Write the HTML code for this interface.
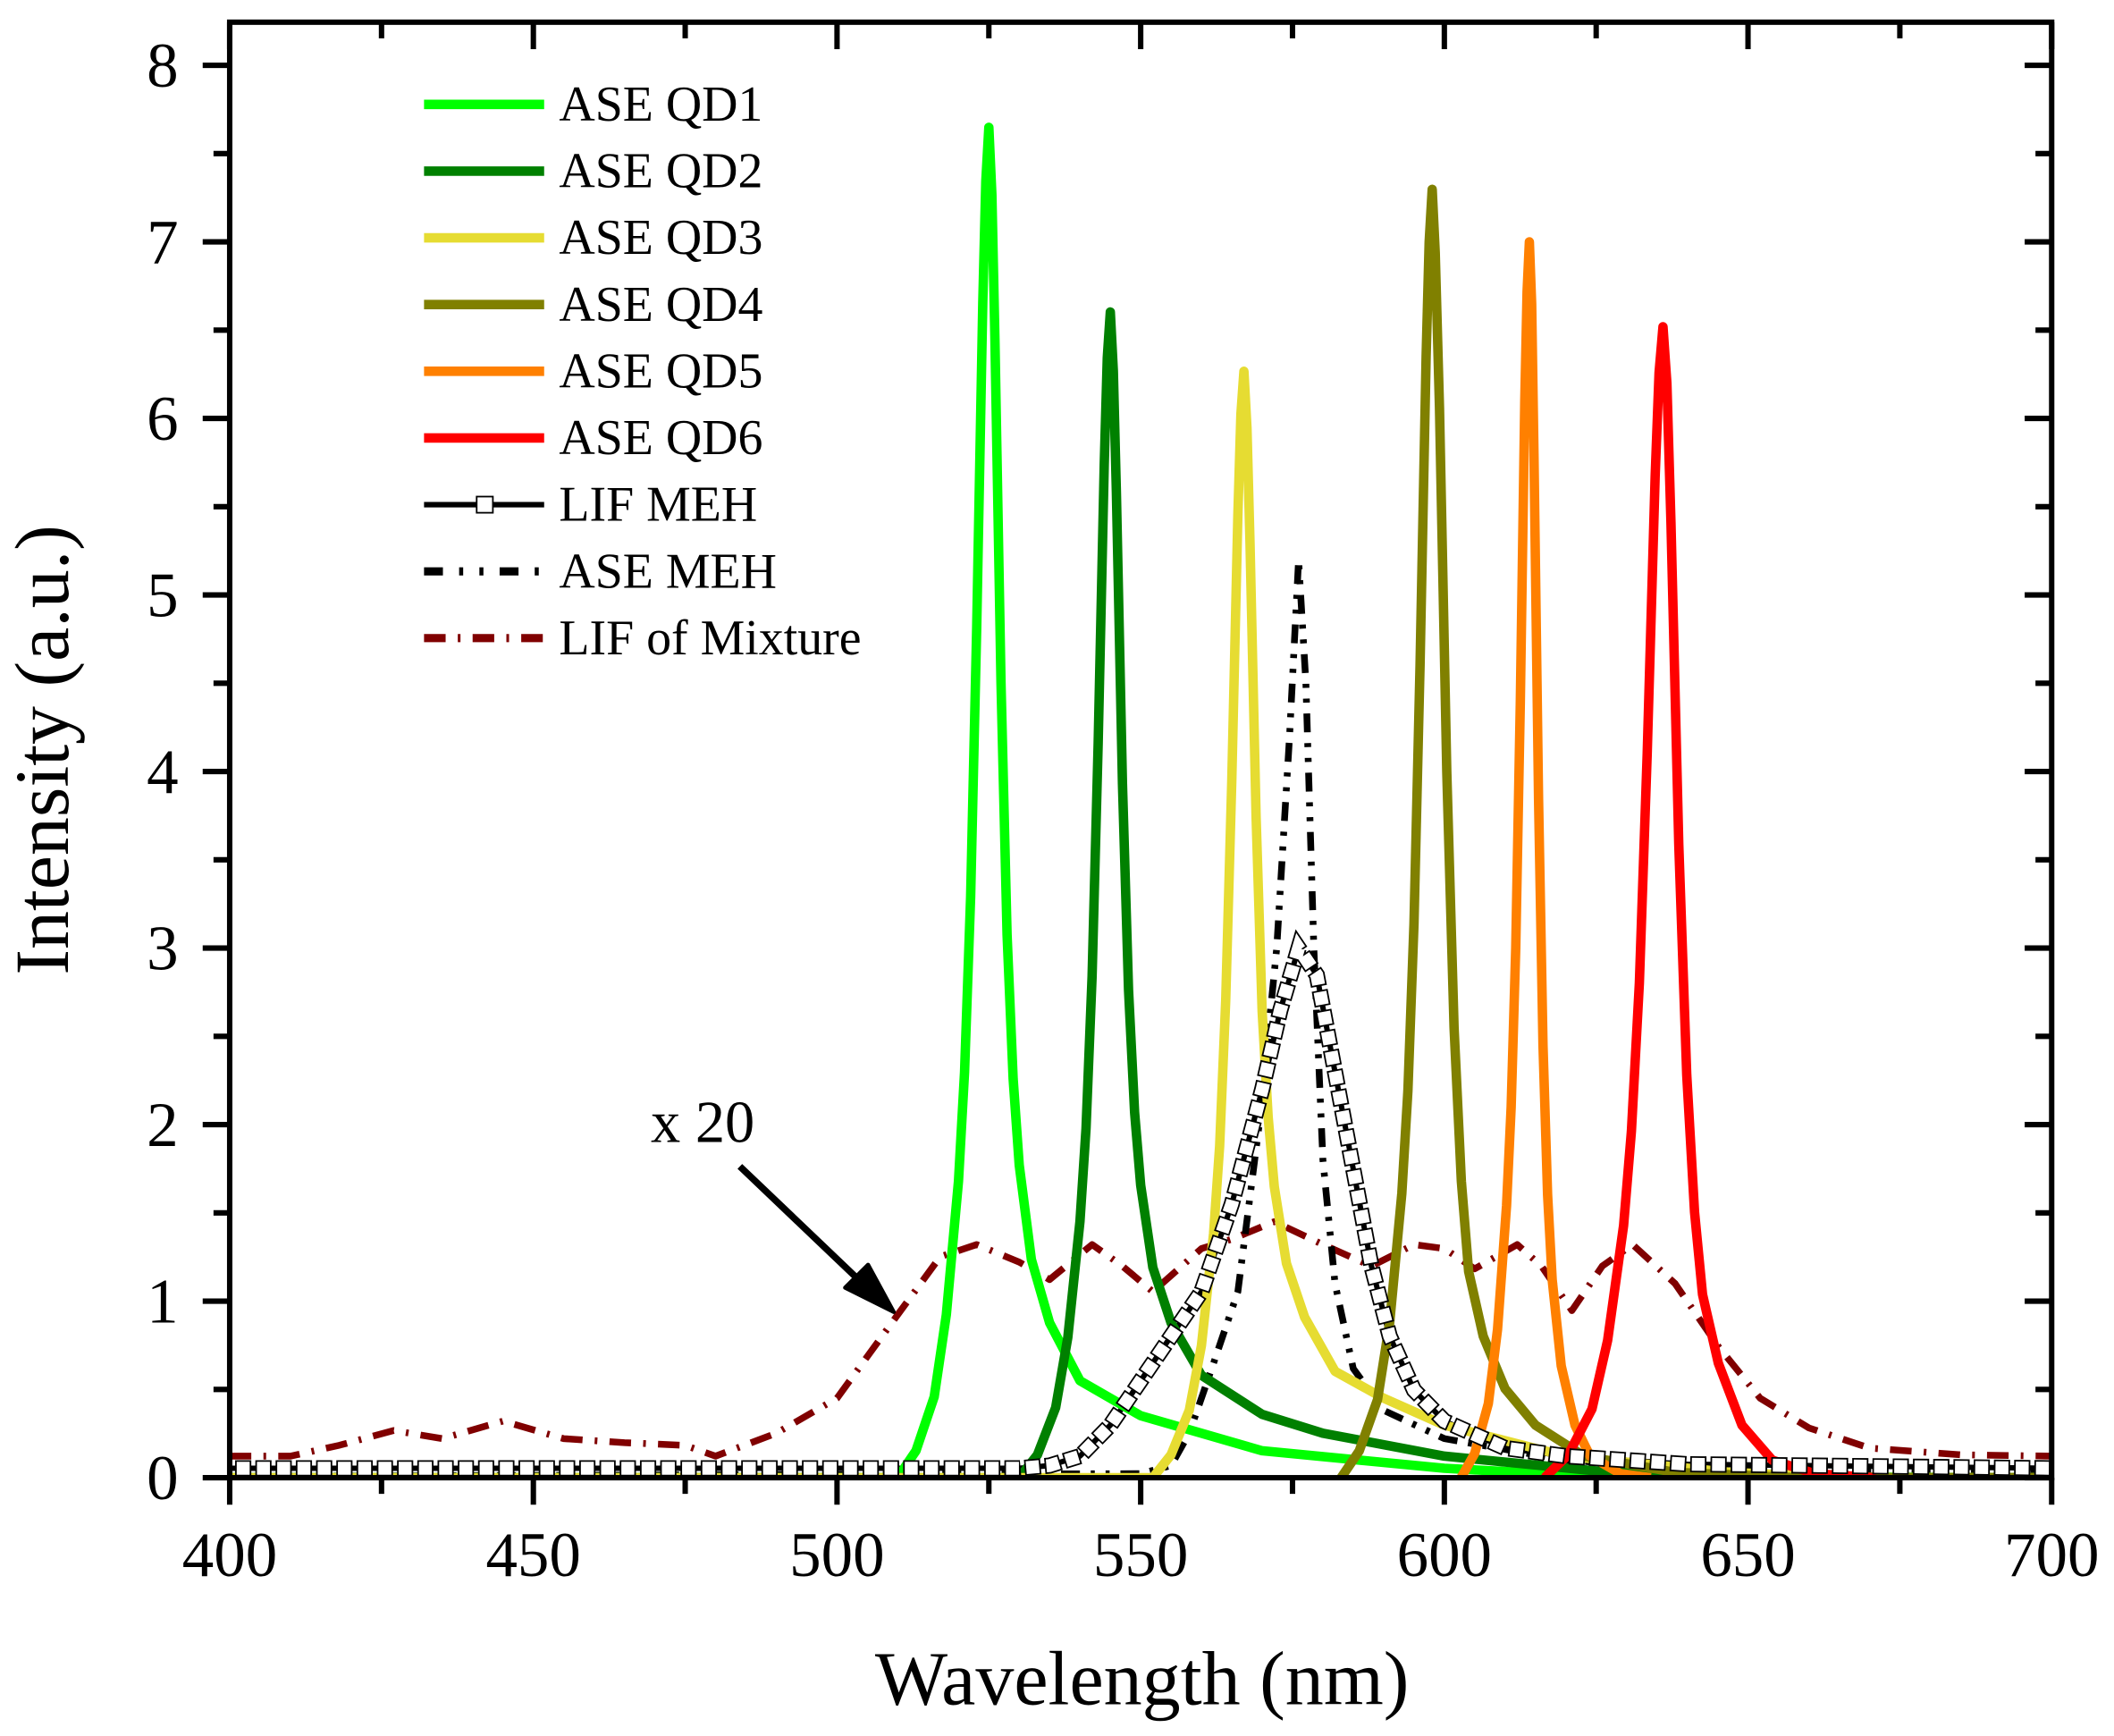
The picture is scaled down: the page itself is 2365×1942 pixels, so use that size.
<!DOCTYPE html>
<html><head><meta charset="utf-8"><style>
html,body{margin:0;padding:0;background:#fff;}
svg{display:block;}
text{font-family:"Liberation Serif",serif;fill:#000;}
</style></head><body>
<svg width="2365" height="1942" viewBox="0 0 1560 1281" preserveAspectRatio="none" xmlns="http://www.w3.org/2000/svg">
<defs><clipPath id="c"><rect x="172" y="17" width="1350" height="1080"/></clipPath></defs>
<g transform="translate(-1.8,-0.53) scale(0.99593,0.99447)">
<g clip-path="url(#c)" fill="none" stroke-linejoin="round">
<polyline stroke="#800000" stroke-width="5" stroke-dasharray="16 9 2 9" points="172,1081 217,1081 253,1073 293.5,1062 329.5,1068 374.5,1055 419.5,1068 464.5,1071 509.5,1073 532,1081 577,1064 622,1038 667,976 698.5,933 725.5,924 757,937 779.5,950 811,924 833.5,940 856,959 892,927 914.5,920 946,907 982,924 1018,940 1049.5,924 1072,927 1094.5,942 1126,924 1144,940 1166.5,973 1189,940 1211.5,924 1243,953 1274.5,999 1306,1038 1342,1060 1387,1075 1454.5,1080 1522,1081"/>
<polyline stroke="#000" stroke-width="4" points="172,1090 757,1090 779.5,1088 802,1081 824.5,1058 847,1025 869.5,992 892,959 914.5,894 937,809 950.5,750 964,704 977.5,724 991,796 1004.5,868 1018,940 1031.5,992 1049.5,1032 1072,1055 1117,1075 1162,1081 1252,1087 1522,1090"/>
<polyline stroke="#000" stroke-width="5" stroke-dasharray="14 8 3 8 3 8" points="172,1096 847,1094 869.5,1088 883,1064 901,1012 919,959 934.8,835 947.8,704 957.3,547 964,416 969.4,507 975.3,704 982,861 991,953 1004.5,1016 1027,1047 1072,1068 1162,1084 1252,1090 1522,1094"/>
<polyline stroke="#00ff00" stroke-width="7" points="172,1097 667,1097 680.5,1077 694,1037 703,976 712,877 716.5,796 721,666 725.5,466 730,225 732.25,135 734.5,95 736.75,145 739,252 743.5,507 748,694 752.5,801 757,865 766,935 779.5,982 802,1025 847,1051 937,1077 1072,1090 1184.5,1096 1522,1097"/>
<polyline stroke="#008000" stroke-width="7" points="172,1097 757,1097 770.5,1080 784,1045 793,993 802,907 806.5,838 811,725 815.5,552 820,345 822.25,266 824.5,232 826.75,276 829,366 833.5,582 838,735 842.5,826 847,880 856,941 869.5,982 892,1021 937,1050 982,1064 1072,1081 1184.5,1092 1297,1097 1522,1097"/>
<polyline stroke="#e6dc32" stroke-width="7" points="172,1097 856,1097 869.5,1080 883,1047 892,999 901,916 905.5,851 910,743 914.5,580 919,383 921.25,308 923.5,276 925.75,318 928,403 932.5,606 937,751 941.5,830 946,881 955,938 968.5,978 991,1018 1027,1038 1072,1058 1162,1081 1283.5,1093 1373.5,1097 1522,1097"/>
<polyline stroke="#808000" stroke-width="7" points="995.5,1097 1009,1077 1022.5,1039 1031.5,982 1040.5,886 1045,810 1049.5,686 1054,494 1058.5,265 1060.75,180 1063,141 1065.25,188 1068.4,303 1073.8,573 1079.2,763 1084.6,877 1090,944 1100.8,992 1117,1031 1139.5,1058 1175.5,1081 1243,1093 1333,1097 1522,1097"/>
<polyline stroke="#ff8000" stroke-width="7" points="1084.4,1097 1094.5,1079 1104.6,1042 1111.4,987 1118.1,895 1121.5,822 1124.9,704 1128.3,521 1131.6,298 1133.3,217 1135,180 1136.7,226 1138.4,337 1141.8,593 1145.1,776 1148.5,887 1151.9,950 1158.6,1014 1168.8,1058 1180,1081 1202.5,1094 1225,1097"/>
<polyline stroke="#ff0000" stroke-width="7" points="1146.3,1097 1163.8,1080 1181.4,1046 1193,995 1204.8,910 1210.6,840 1216.5,730 1222.3,560 1228.2,354 1231.1,277 1234,243 1236.9,285 1239.9,388 1245.7,627 1251.6,798 1257.4,900 1263.3,961 1275,1012 1292.5,1058 1315,1084 1346.5,1094 1391.5,1097"/>
<polyline stroke="#000" stroke-width="12" stroke-linejoin="miter" stroke-dasharray="12 3" points="176,1090 757,1090 779.5,1088 802,1081 824.5,1058 847,1025 869.5,992 892,959 914.5,894 937,809 950.5,750 964,704 977.5,724 991,796 1004.5,868 1018,940 1031.5,992 1049.5,1032 1072,1055 1117,1075 1162,1081 1252,1087 1522,1090"/>
<polyline stroke="#fff" stroke-width="9.6" stroke-linejoin="miter" stroke-dasharray="9.6 5.4" stroke-dashoffset="-1.2" points="176,1090 757,1090 779.5,1088 802,1081 824.5,1058 847,1025 869.5,992 892,959 914.5,894 937,809 950.5,750 964,704 977.5,724 991,796 1004.5,868 1018,940 1031.5,992 1049.5,1032 1072,1055 1117,1075 1162,1081 1252,1087 1522,1090"/>
</g>
<g fill="none" stroke="#000" stroke-width="4">
<rect x="172" y="17" width="1350" height="1080"/>
<path d="M172,1097v20M397,1097v20M622,1097v20M847,1097v20M1072,1097v20M1297,1097v20M1522,1097v20
M284.5,1097v12M509.5,1097v12M734.5,1097v12M959.5,1097v12M1184.5,1097v12M1409.5,1097v12
M172,17v20M397,17v20M622,17v20M847,17v20M1072,17v20M1297,17v20M1522,17v20
M284.5,17v12M509.5,17v12M734.5,17v12M959.5,17v12M1184.5,17v12M1409.5,17v12
M172,1097h-20M172,966h-20M172,835h-20M172,704h-20M172,573h-20M172,442h-20M172,311h-20M172,180h-20M172,49h-20
M172,1031.5h-12M172,900.5h-12M172,769.5h-12M172,638.5h-12M172,507.5h-12M172,376.5h-12M172,245.5h-12M172,114.5h-12
M1522,1097h-20M1522,966h-20M1522,835h-20M1522,704h-20M1522,573h-20M1522,442h-20M1522,311h-20M1522,180h-20M1522,49h-20
M1522,1031.5h-12M1522,900.5h-12M1522,769.5h-12M1522,638.5h-12M1522,507.5h-12M1522,376.5h-12M1522,245.5h-12M1522,114.5h-12"/>
</g>
<g font-size="47" text-anchor="middle">
<text x="172" y="1170">400</text><text x="397" y="1170">450</text><text x="622" y="1170">500</text><text x="847" y="1170">550</text><text x="1072" y="1170">600</text><text x="1297" y="1170">650</text><text x="1522" y="1170">700</text>
</g>
<g font-size="47" text-anchor="end">
<text x="134" y="1113">0</text><text x="134" y="982">1</text><text x="134" y="851">2</text><text x="134" y="720">3</text><text x="134" y="589">4</text><text x="134" y="458">5</text><text x="134" y="327">6</text><text x="134" y="196">7</text><text x="134" y="65">8</text>
</g>
<text x="484" y="848" font-size="44">x 20</text>
<line x1="550" y1="866" x2="640" y2="952" stroke="#000" stroke-width="5"/>
<polygon points="664,974 628,956 645,939" fill="#000" stroke="#000" stroke-width="3" stroke-linejoin="round"/>
<text x="848" y="1265" font-size="57" text-anchor="middle">Wavelength (nm)</text>
<text transform="translate(52,557) rotate(-90)" font-size="57" text-anchor="middle">Intensity (a.u.)</text>
<g stroke-width="7">
<line x1="316" y1="78" x2="405" y2="78" stroke="#00ff00"/>
<line x1="316" y1="127.5" x2="405" y2="127.5" stroke="#008000"/>
<line x1="316" y1="177" x2="405" y2="177" stroke="#e6dc32"/>
<line x1="316" y1="226.5" x2="405" y2="226.5" stroke="#808000"/>
<line x1="316" y1="276" x2="405" y2="276" stroke="#ff8000"/>
<line x1="316" y1="325.5" x2="405" y2="325.5" stroke="#ff0000"/>
<line x1="316" y1="375" x2="405" y2="375" stroke="#000" stroke-width="4"/>
<rect x="355" y="369" width="12" height="12" fill="#fff" stroke="#000" stroke-width="1.2"/>
<line x1="316" y1="424.5" x2="405" y2="424.5" stroke="#000" stroke-width="6" stroke-dasharray="14 12 3 12 3 12"/>
<line x1="316" y1="474" x2="405" y2="474" stroke="#800000" stroke-width="6" stroke-dasharray="16 9 2 9"/>
</g>
<g font-size="37">
<text x="416" y="90">ASE QD1</text>
<text x="416" y="139.5">ASE QD2</text>
<text x="416" y="189">ASE QD3</text>
<text x="416" y="238.5">ASE QD4</text>
<text x="416" y="288">ASE QD5</text>
<text x="416" y="337.5">ASE QD6</text>
<text x="416" y="387">LIF MEH</text>
<text x="416" y="436.5">ASE MEH</text>
<text x="416" y="486">LIF of Mixture</text>
</g>
</g>
</svg>
</body></html>
